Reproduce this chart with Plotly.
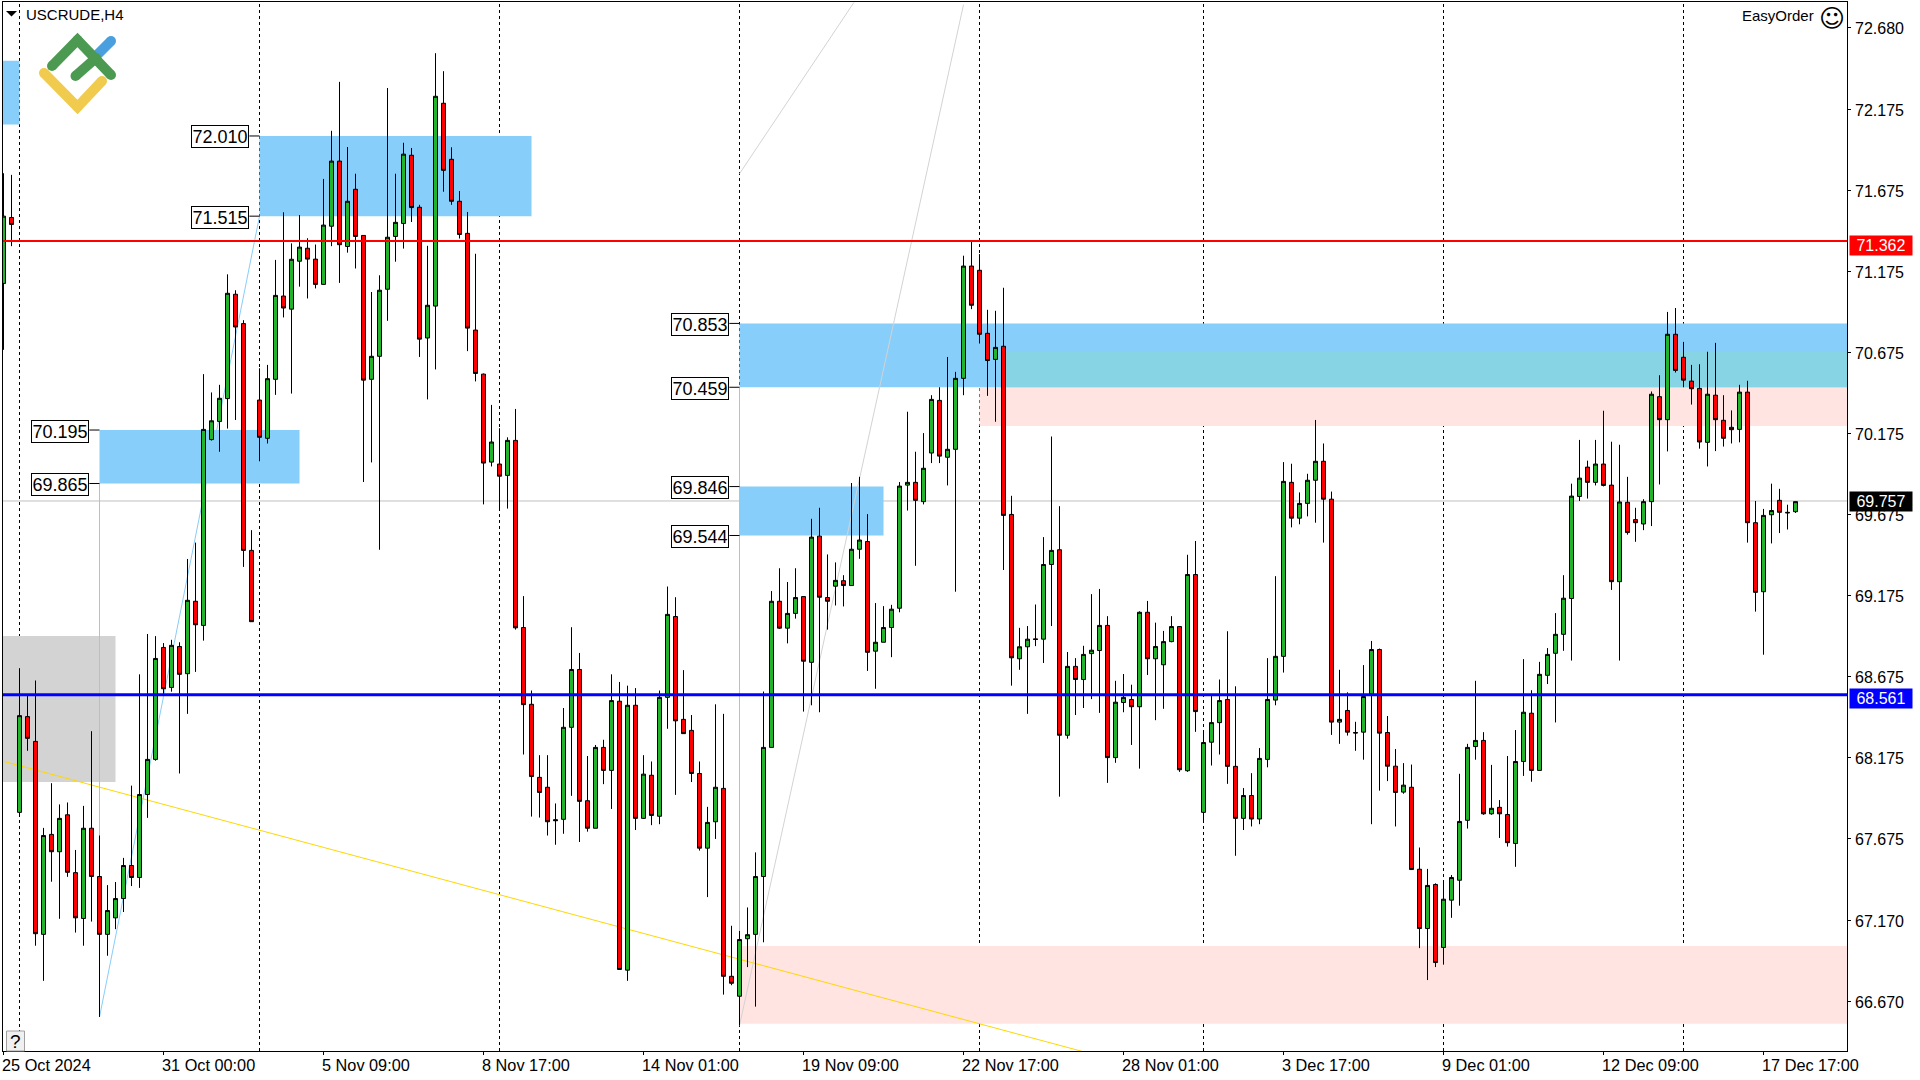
import plotly.graph_objects as go

# H4 candles, one list per field
opens = [
    71.10,71.507,67.835,68.426,68.273,67.082,67.699,67.592,67.82,67.463,
    67.18,67.737,67.439,67.082,67.184,67.303,67.507,67.433,67.945,68.162,
    68.853,68.606,68.859,68.691,69.138,68.989,70.136,70.248,70.389,71.033,
    70.852,69.452,70.38,70.144,70.508,71.022,70.941,71.237,71.317,71.25,
    71.094,71.453,71.855,71.328,71.681,71.396,70.508,70.65,71.064,71.39,
    71.47,71.891,71.57,70.763,70.96,72.212,71.866,71.607,71.409,70.812,
    70.54,69.997,69.985,69.915,70.131,68.976,68.502,68.051,67.99,67.79,
    67.792,68.36,68.717,67.907,67.737,68.236,68.094,68.521,66.861,68.496,
    67.798,68.064,67.811,68.545,69.044,68.409,68.341,68.075,67.614,67.777,
    67.983,66.823,66.7,67.055,67.082,67.439,68.236,69.138,68.972,69.063,
    69.167,68.761,69.54,69.161,69.231,69.265,69.235,69.459,69.507,68.83,
    68.885,68.976,69.095,69.855,69.872,69.753,70.053,70.378,70.027,70.076,
    70.514,71.207,71.181,70.792,70.631,70.712,69.674,68.783,68.857,68.906,
    68.904,69.365,69.456,68.311,68.736,68.655,68.815,68.834,68.989,68.173,
    68.513,68.532,68.487,69.07,68.783,68.746,68.889,68.982,68.092,69.303,
    67.835,68.268,68.389,68.532,68.119,67.798,67.939,67.794,68.162,68.528,
    68.798,69.872,69.651,69.742,69.885,70.002,69.768,68.392,68.464,68.328,
    68.33,68.565,68.84,68.328,68.12,67.96,67.99,67.484,67.118,67.39,
    67.001,67.293,67.416,67.786,68.241,68.279,67.826,67.866,67.822,67.643,
    68.149,68.447,68.094,68.681,68.817,68.934,69.155,69.785,69.966,69.872,
    69.985,69.855,69.259,69.749,69.642,69.615,69.753,70.401,70.259,70.786,
    70.644,70.497,70.452,70.119,70.41,70.255,70.212,70.199,70.429,69.623,
    69.197,69.672,69.761,69.687,69.691,
]
closes = [
    71.515,71.464,68.432,68.292,67.086,67.692,67.592,67.798,67.465,67.184,
    67.737,67.439,67.082,67.229,67.303,67.507,67.433,67.945,68.162,68.785,
    68.598,68.866,68.687,69.144,68.993,70.199,70.252,70.391,71.039,70.831,
    69.452,69.012,70.15,70.512,71.026,70.948,71.249,71.324,71.25,71.094,
    71.46,71.855,71.339,71.607,71.39,70.503,70.65,71.058,71.385,71.477,
    71.898,71.568,70.756,70.965,72.255,71.798,71.607,71.402,70.824,70.544,
    69.991,70.121,69.91,70.131,68.974,68.5,68.056,67.958,67.777,67.784,
    68.36,68.717,67.903,67.737,68.236,68.094,68.525,66.865,68.496,67.798,
    68.071,67.816,68.545,69.057,68.4,68.321,68.075,67.614,67.773,67.99,
    66.823,66.78,67.05,67.08,67.439,68.236,69.138,68.972,69.063,69.161,
    68.768,69.534,69.163,69.138,69.267,69.235,69.459,69.516,68.823,68.885,
    68.976,69.089,69.849,69.872,69.761,69.959,70.384,70.034,70.076,70.514,
    71.207,70.965,70.786,70.624,70.705,69.668,68.789,68.857,68.904,68.902,
    69.365,69.452,68.311,68.736,68.655,68.81,68.836,68.989,68.173,68.515,
    68.545,68.487,69.07,68.783,68.859,68.889,68.982,68.098,69.303,68.457,
    68.266,68.389,68.525,68.119,67.798,67.939,67.794,68.168,68.532,68.798,
    69.878,69.651,69.742,69.885,70.002,69.768,68.392,68.409,68.33,68.325,
    68.55,68.84,68.324,68.12,67.958,68.003,67.482,67.118,67.384,66.908,
    67.299,67.433,67.779,68.236,68.279,67.826,67.86,67.826,67.648,68.149,
    68.453,68.094,68.687,68.81,68.934,69.157,69.787,69.898,69.872,69.985,
    69.853,69.259,69.751,69.562,69.623,69.753,70.416,70.259,70.786,70.563,
    70.503,70.45,70.121,70.416,70.259,70.144,70.197,70.429,69.623,69.193,
    69.668,69.698,69.687,69.684,69.753,
]
highs = [
    71.78,71.77,68.725,68.555,68.649,67.739,68.015,67.884,67.896,67.603,
    67.875,68.336,67.692,67.386,67.405,67.554,68.0,68.687,68.936,68.923,
    68.88,68.9,68.885,69.399,69.5,70.54,70.427,70.474,71.156,71.058,
    70.873,69.577,70.576,70.597,71.245,71.539,71.347,71.522,71.379,71.34,
    71.745,72.042,72.344,71.942,71.777,71.396,71.047,71.15,72.306,71.777,
    71.968,71.936,71.585,71.332,72.521,72.41,71.94,71.67,71.541,71.283,
    70.544,70.35,70.206,70.15,70.325,69.17,68.587,68.188,68.188,67.89,
    68.479,68.978,68.819,68.183,68.251,68.283,68.687,68.64,68.617,68.602,
    68.188,68.149,68.587,69.229,69.163,68.713,68.436,68.149,67.869,68.502,
    68.443,67.135,67.103,67.248,67.588,68.581,69.201,69.342,69.257,69.342,
    69.167,69.647,69.715,69.427,69.378,69.299,69.868,69.906,69.676,69.127,
    69.108,69.116,69.874,70.308,70.061,70.176,70.41,70.459,70.646,70.554,
    71.271,71.356,71.281,70.937,70.931,71.073,69.789,68.974,68.985,69.118,
    69.534,70.155,69.725,68.825,68.787,68.863,69.182,69.214,69.046,68.647,
    68.689,68.623,69.076,69.14,69.006,68.955,69.046,68.982,69.425,69.51,
    68.326,68.553,68.655,68.953,68.613,67.985,68.077,68.232,68.787,69.293,
    69.997,69.987,69.81,69.925,70.257,70.112,69.815,68.715,68.576,68.394,
    68.744,68.893,68.846,68.43,68.226,68.139,68.13,67.618,67.486,67.397,
    67.401,67.448,68.073,68.258,68.647,68.33,68.128,67.911,68.183,68.343,
    68.781,68.589,68.764,68.849,69.065,69.299,69.864,70.134,70.006,70.134,
    70.314,70.123,70.104,69.906,69.715,69.768,70.433,70.533,70.924,70.948,
    70.739,70.597,70.601,70.678,70.733,70.41,70.316,70.474,70.499,69.757,
    69.708,69.864,69.832,69.734,69.753,
]
lows = [
    70.69,71.33,67.82,68.215,67.012,66.795,67.407,67.178,67.437,67.093,
    67.012,67.161,66.572,66.95,67.114,67.22,67.38,67.369,67.801,68.154,
    68.56,68.58,68.075,68.443,68.702,68.895,70.13,70.061,70.204,70.257,
    69.35,69.01,70.002,70.112,70.412,70.89,70.42,71.08,71.007,71.069,
    71.094,71.33,71.103,71.29,71.192,69.874,69.995,69.456,70.869,71.234,
    71.315,71.479,70.646,70.384,70.569,71.666,71.585,71.377,70.682,70.495,
    69.736,69.97,69.708,69.71,68.963,68.192,67.809,67.803,67.692,67.635,
    67.703,67.937,67.652,67.716,67.737,68.009,67.856,66.865,66.795,67.726,
    67.794,67.756,67.762,68.351,67.943,68.321,68.022,67.599,67.312,67.671,
    66.71,66.768,66.519,66.88,66.636,67.033,68.236,68.968,68.878,69.031,
    68.457,68.496,68.453,68.963,69.112,69.106,69.235,69.4,68.708,68.598,
    68.885,68.793,69.07,69.698,69.357,69.736,69.991,69.991,69.853,69.197,
    70.41,70.941,70.729,70.406,70.246,69.331,68.617,68.715,68.443,68.861,
    68.757,68.985,67.932,68.29,68.436,68.479,68.534,68.449,68.017,68.141,
    68.453,68.251,68.105,68.683,68.404,68.474,68.885,68.085,68.085,68.332,
    67.784,68.124,68.192,68.011,67.567,67.726,67.748,67.762,68.113,68.496,
    68.698,69.594,69.613,69.662,69.623,69.5,68.313,68.258,68.309,68.215,
    68.16,67.762,67.969,68.028,67.748,67.95,67.482,66.997,66.8,66.88,
    66.895,67.184,67.259,67.735,68.16,67.82,67.82,67.677,67.624,67.499,
    68.06,68.024,68.094,68.627,68.39,68.832,68.772,69.757,69.772,69.853,
    69.847,69.208,68.772,69.549,69.505,69.577,69.602,69.859,70.063,70.55,
    70.459,70.352,70.08,69.97,70.065,70.093,70.112,70.119,69.5,69.074,
    68.808,69.495,69.559,69.581,69.683,
]
bars = list(range(len(opens)))

# axes
price_ticks = [72.680, 72.175, 71.675, 71.175, 70.675, 70.175, 69.675, 69.175, 68.675, 68.175, 67.675, 67.170, 66.670]
time_tick_bars = [0, 20, 40, 60, 80, 100, 120, 140, 160, 180, 200, 220]
time_labels = ['25 Oct 2024', '31 Oct 00:00', '5 Nov 09:00', '8 Nov 17:00', '14 Nov 01:00', '19 Nov 09:00',
               '22 Nov 17:00', '28 Nov 01:00', '3 Dec 17:00', '9 Dec 01:00', '12 Dec 09:00', '17 Dec 17:00']
separator_bars = [2, 32, 62, 92, 122, 150, 180, 210]
x_range = [-0.0625, 230.4375]
y_range = [66.362, 72.837]

# horizontal levels
support_level = 68.561
resistance_level = 71.362
last_price = 69.757

# zones: start bar, end bar, price a, price b
blue_zones = [(-0.0625, 2, 72.474, 72.081), (32, 66, 72.010, 71.515), (12, 37, 70.195, 69.865),
              (92, 230.4375, 70.853, 70.459), (92, 110, 69.846, 69.544)]
pink_zones = [(122, 230.4375, 70.459, 70.22), (92, 230.4375, 67.01, 66.53)]
teal_zones = [(125, 230.4375, 70.68, 70.459)]
grey_zones = [(-0.0625, 14, 68.923, 68.022)]

# level tags: bar the tag points at, price
level_tags = [(32, 72.010), (32, 71.515), (12, 70.195), (12, 69.865),
              (92, 70.853), (92, 70.459), (92, 69.846), (92, 69.544)]

# thin drawn lines: bar a, price a, bar b, price b
yellow_lines = [(0, 68.15, 134.8, 66.36)]
skyblue_lines = [(12, 69.865, 12, 66.572), (12, 66.572, 32, 71.515), (92, 70.459, 92, 66.53)]
grey_lines = [(92, 66.519, 120, 72.82), (92, 71.777, 106.3, 72.834)]

GREEN = '#22B42A'
RED = '#FF0000'
FONT = 'Liberation Sans'
PLOT_L, PLOT_R, PLOT_T, PLOT_B = 3, 1847, 2, 1051


# pixel position to paper position, only for the logo and the corner widgets
def px(x):
    return (x - PLOT_L) / (PLOT_R - PLOT_L)


def py(y):
    return 1 - (y - PLOT_T) / (PLOT_B - PLOT_T)


fig = go.Figure()

fig.add_trace(go.Candlestick(
    x=bars, open=opens, high=highs, low=lows, close=closes,
    increasing=dict(line=dict(color='black', width=1), fillcolor=GREEN),
    decreasing=dict(line=dict(color='black', width=1), fillcolor=RED),
    whiskerwidth=0,
    hoverinfo='skip',
    showlegend=False,
))

shapes = []


def add_zones(zones, color):
    for x0, x1, y0, y1 in zones:
        shapes.append(dict(type='rect', xref='x', yref='y', x0=x0, x1=x1, y0=y0, y1=y1,
                           fillcolor=color, line_width=0, layer='below'))


def add_lines(lines, color):
    for x0, y0, x1, y1 in lines:
        shapes.append(dict(type='line', xref='x', yref='y', x0=x0, y0=y0, x1=x1, y1=y1,
                           line=dict(color=color, width=1), layer='below'))


add_zones(grey_zones, '#D3D3D3')
add_zones(pink_zones, '#FFE4E1')
add_zones(blue_zones, '#87CEFA')
add_zones(teal_zones, '#86D4E4')
add_lines(yellow_lines, '#FFD700')
add_lines(skyblue_lines, '#87CEFA')
add_lines(grey_lines, '#D3D3D3')

# current price line and period separators
shapes.append(dict(type='line', xref='paper', yref='y', x0=0, x1=1, y0=last_price, y1=last_price,
                   line=dict(color='#C0C0C0', width=1), layer='below'))
for b in separator_bars:
    shapes.append(dict(type='line', xref='x', yref='paper', x0=b, x1=b, y0=0, y1=1,
                       line=dict(color='black', width=1, dash='3px,3px'), layer='below'))

# main levels sit on top of the candles
shapes.append(dict(type='line', xref='paper', yref='y', x0=0, x1=1, y0=resistance_level, y1=resistance_level,
                   line=dict(color='#FF0000', width=2), layer='above'))
shapes.append(dict(type='line', xref='paper', yref='y', x0=0, x1=1, y0=support_level, y1=support_level,
                   line=dict(color='#0000FF', width=3), layer='above'))

annotations = []

# tags with their short leader
for b, price in level_tags:
    shapes.append(dict(type='line', xref='x', yref='y', x0=b - 1.27, x1=b, y0=price, y1=price,
                       line=dict(color='black', width=1), layer='above'))
    annotations.append(dict(x=b - 1.27, y=price, xref='x', yref='y', xanchor='right', yanchor='middle', yshift=-1,
                            text=f'{price:.3f}', showarrow=False, width=56, height=21, align='center',
                            bgcolor='white', bordercolor='black', borderwidth=1, borderpad=0,
                            font=dict(family=FONT, size=18, color='black')))

# time axis labels start at their tick, so they are annotations
for b, label in zip(time_tick_bars, time_labels):
    annotations.append(dict(x=b, y=0, xref='x', yref='paper', xanchor='left', yanchor='top', yshift=-3, xshift=-4,
                            text=label, showarrow=False, font=dict(family=FONT, size=16.3, color='black')))

# price axis labels, placed the same way so they can sit a pixel lower than tick text would
for p in price_ticks:
    annotations.append(dict(x=1, y=p, xref='paper', yref='y', xanchor='left', yanchor='middle', xshift=5.5, yshift=-1,
                            text=f'{p:.3f}', showarrow=False, font=dict(family=FONT, size=16, color='black')))

# price badges on the right axis
for price, color, shift in [(resistance_level, '#FF0000', -4.5), (support_level, '#0000FF', -4), (last_price, '#000000', -1)]:
    annotations.append(dict(x=1, y=price, xref='paper', yref='y', xanchor='left', yanchor='middle', xshift=2, yshift=shift,
                            text=f'{price:.3f}', showarrow=False, width=62, height=19, align='center',
                            bgcolor=color, borderpad=0, font=dict(family=FONT, size=16, color='white')))

# chart title and corner widgets
annotations.append(dict(x=px(23.5), y=py(15), xref='paper', yref='paper', xanchor='left', yanchor='middle',
                        text='USCRUDE,H4', showarrow=False, font=dict(family=FONT, size=15, color='black')))
annotations.append(dict(x=px(1816), y=py(16), xref='paper', yref='paper', xanchor='right', yanchor='middle',
                        text='EasyOrder', showarrow=False, font=dict(family=FONT, size=15, color='black')))
annotations.append(dict(x=px(1832), y=py(18), xref='paper', yref='paper', xanchor='center', yanchor='middle',
                        text='☺', showarrow=False, font=dict(family='DejaVu Sans', size=25, color='black')))
annotations.append(dict(x=px(15.5), y=py(1041), xref='paper', yref='paper', xanchor='center', yanchor='middle',
                        text='?', showarrow=False, font=dict(family=FONT, size=19, color='black')))

shapes.append(dict(type='path', xref='paper', yref='paper', fillcolor='black', line_width=0, layer='above',
                   path=f'M {px(6)} {py(11)} L {px(17)} {py(11)} L {px(11.5)} {py(16.5)} Z'))
shapes.append(dict(type='rect', xref='paper', yref='paper', x0=px(6.5), x1=px(24.5), y0=py(1031), y1=py(1051),
                   fillcolor='#F0F0F0', line=dict(color='#A0A0A0', width=1), layer='above'))

# logo strokes with round ends
logo_strokes = [
    ('#4A9FDF', [(96, 56), (111, 41)]),
    ('#4C9A52', [(52, 66), (77.5, 40), (111, 75)]),
    ('#4C9A52', [(75.5, 76), (96, 58)]),
    ('#F0CB4E', [(44, 73), (77.5, 107), (102, 81)]),
]
for color, points in logo_strokes:
    path = 'M ' + ' L '.join(f'{px(x)} {py(y)}' for x, y in points)
    shapes.append(dict(type='path', xref='paper', yref='paper', path=path,
                       line=dict(color=color, width=10), layer='above'))
    for x, y in points:
        shapes.append(dict(type='circle', xref='paper', yref='paper', x0=px(x - 5), x1=px(x + 5), y0=py(y - 5), y1=py(y + 5),
                           fillcolor=color, line_width=0, layer='above'))

fig.update_layout(
    width=1920,
    height=1080,
    margin=dict(l=PLOT_L, r=1920 - PLOT_R, t=PLOT_T, b=1080 - PLOT_B, autoexpand=False),
    plot_bgcolor='white',
    paper_bgcolor='white',
    showlegend=False,
    hovermode=False,
    boxgap=0.5,
    boxgroupgap=0,
    shapes=shapes,
    annotations=annotations,
    font=dict(family=FONT, size=16, color='black'),
    xaxis=dict(
        range=x_range,
        rangeslider=dict(visible=False),
        showgrid=False,
        zeroline=False,
        showline=True,
        mirror=True,
        linecolor='black',
        linewidth=1,
        ticks='outside',
        ticklen=3,
        tickcolor='black',
        tickvals=time_tick_bars,
        showticklabels=False,
    ),
    yaxis=dict(
        range=y_range,
        side='right',
        showgrid=False,
        zeroline=False,
        showline=True,
        mirror=True,
        linecolor='black',
        linewidth=1,
        ticks='outside',
        ticklen=3,
        tickcolor='black',
        tickvals=price_ticks,
        showticklabels=False,
    ),
)

fig.write_html('out.html', post_script="document.body.style.margin='0';", config=dict(displayModeBar=False))
